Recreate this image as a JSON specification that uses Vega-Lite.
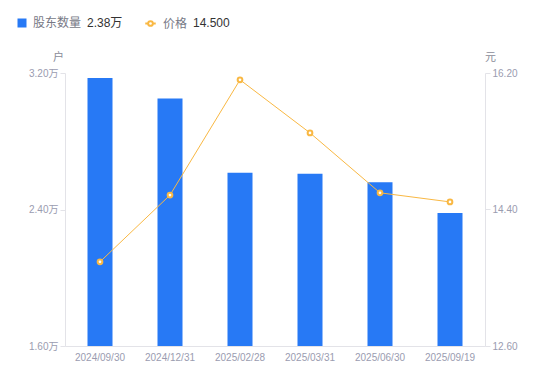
{
  "$schema": "https://vega.github.io/schema/vega-lite/v6.json",
  "width": 420,
  "height": 273,
  "autosize": {"type": "none"},
  "padding": {"left": 65, "top": 73, "right": 65, "bottom": 35},
  "config": {
    "font": "'Liberation Sans', 'Noto Sans CJK SC', sans-serif",
    "view": {"stroke": null},
    "axis": {
      "grid": false,
      "domainColor": "#e3e3e8",
      "tickColor": "#e3e3e8",
      "labelColor": "#9a9cb0",
      "labelFontSize": 10,
      "titleFontWeight": "normal",
      "titleColor": "#8a8c99",
      "titleFontSize": 11
    }
  },
  "data": {
    "values": [
      {"date": "2024/09/30", "holders": 3.17, "price": 13.71},
      {"date": "2024/12/31", "holders": 3.05, "price": 14.59},
      {"date": "2025/02/28", "holders": 2.615, "price": 16.11},
      {"date": "2025/03/31", "holders": 2.61, "price": 15.41},
      {"date": "2025/06/30", "holders": 2.56, "price": 14.62},
      {"date": "2025/09/19", "holders": 2.38, "price": 14.5}
    ]
  },
  "encoding": {
    "x": {
      "field": "date",
      "type": "ordinal",
      "sort": null,
      "scale": {"paddingInner": 0, "paddingOuter": 0},
      "axis": {"title": null, "labelAngle": 0, "ticks": false, "labelPadding": 6}
    }
  },
  "layer": [
    {
      "mark": {"type": "bar", "size": 25, "clip": true},
      "encoding": {
        "y": {
          "field": "holders",
          "type": "quantitative",
          "scale": {"domain": [1.6, 3.2], "nice": false, "zero": false},
          "axis": {
            "orient": "left",
            "values": [1.6, 2.4, 3.2],
            "labelExpr": "format(datum.value, '.2f') + '万'",
            "tickSize": 5,
            "labelPadding": 2,
            "title": "户",
            "titleAngle": 0,
            "titleX": -7,
            "titleY": -16,
            "titleAlign": "center",
            "titleBaseline": "middle"
          }
        },
        "y2": {"datum": 1.6},
        "fill": {
          "datum": "股东数量",
          "type": "nominal",
          "scale": {"domain": ["股东数量"], "range": ["#2779f5"]},
          "legend": {
            "orient": "none",
            "legendX": -49,
            "legendY": -56,
            "padding": 0,
            "symbolType": "square",
            "symbolSize": 81,
            "labelLimit": 200,
            "labelFontSize": 12,
            "labelColor": "#777986",
            "labelOffset": 5,
            "title": "2.38万",
            "titleOrient": "right",
            "titleFontSize": 12,
            "titleFontWeight": "normal",
            "titleColor": "#333333",
            "titlePadding": 6,
            "titleBaseline": "middle"
          }
        }
      }
    },
    {
      "encoding": {
        "y": {
          "field": "price",
          "type": "quantitative",
          "scale": {"domain": [12.6, 16.2], "nice": false, "zero": false},
          "axis": {
            "orient": "right",
            "values": [12.6, 14.4, 16.2],
            "format": ".2f",
            "tickSize": 5,
            "labelPadding": 2,
            "title": "元",
            "titleAngle": 0,
            "titleX": 5,
            "titleY": -16,
            "titleAlign": "center",
            "titleBaseline": "middle"
          }
        },
        "stroke": {
          "datum": "价格",
          "type": "nominal",
          "scale": {"domain": ["价格"], "range": ["#f9b843"]},
          "legend": {
            "orient": "none",
            "legendX": 79,
            "legendY": -56,
            "padding": 0,
            "symbolType": "M-1,0L-0.45,0M0.45,0L1,0M0.45,0A0.45,0.45,0,1,1,-0.45,0A0.45,0.45,0,1,1,0.45,0",
            "symbolSize": 110,
            "symbolStrokeWidth": 2,
            "symbolFillColor": "#ffffff",
            "labelFontSize": 12,
            "labelColor": "#777986",
            "labelOffset": 6,
            "title": "14.500",
            "titleOrient": "right",
            "titleFontSize": 12,
            "titleFontWeight": "normal",
            "titleColor": "#333333",
            "titlePadding": 6,
            "titleBaseline": "middle"
          }
        }
      },
      "layer": [
        {"mark": {"type": "line", "strokeWidth": 1}},
        {"mark": {"type": "point", "filled": true, "fill": "#ffffff", "size": 22, "strokeWidth": 2, "opacity": 1}}
      ]
    }
  ],
  "resolve": {"scale": {"y": "independent"}}
}
